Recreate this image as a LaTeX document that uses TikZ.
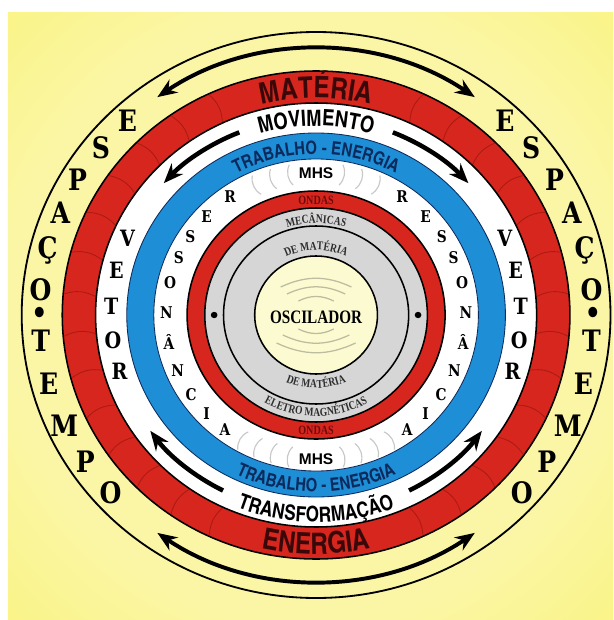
\documentclass[tikz,border=0pt]{standalone}
\usepackage{fontspec}
\setmainfont{Liberation Serif}
\newfontfamily\condfont{texgyreheroscn-bold.otf}
\newfontfamily\plainsans{Liberation Sans}
\newfontfamily\narrowserif{Liberation Serif}[FakeStretch=0.8]
\newfontfamily\slabserif{DejaVu Serif}[FakeStretch=0.85]
\usetikzlibrary{arrows.meta,
                decorations.text}

\definecolor{bgyellow}{RGB}{246,236,72}
\definecolor{ringyellow}{RGB}{249,242,118}
\definecolor{bgpale}{RGB}{251,246,165}
\definecolor{bandred}{RGB}{214,38,30}
\definecolor{scalered}{RGB}{172,26,18}
\definecolor{bandblue}{RGB}{30,142,214}
\definecolor{ringgray}{RGB}{214,214,214}
\definecolor{coreyellow}{RGB}{252,250,208}
\definecolor{coreedge}{RGB}{245,239,150}
\definecolor{maroontext}{RGB}{58,8,8}
\definecolor{navytext}{RGB}{12,42,92}
\definecolor{ondastext}{RGB}{110,10,10}
\definecolor{graytext}{RGB}{45,45,45}
\definecolor{wavegray}{RGB}{200,200,200}
\definecolor{waveolive}{RGB}{188,188,160}

\pgfdeclareradialshading{yellowglow}{\pgfpoint{0bp}{0bp}}{color(0bp)=(bgpale); color(25bp)=(bgpale); color(42bp)=(ringyellow); color(60bp)=(bgyellow); color(75bp)=(bgyellow)}
\pgfdeclareradialshading{coreglow}{\pgfpoint{0bp}{0bp}}{color(0bp)=(coreyellow); color(30bp)=(coreyellow); color(50bp)=(coreedge)}

\newcommand{\bigbandfont}{\condfont\fontsize{21}{21}\selectfont}
\newcommand{\movfont}{\condfont\fontsize{16}{16}\selectfont}
\newcommand{\transfont}{\condfont\fontsize{15}{15}\selectfont}
\newcommand{\bluebandfont}{\condfont\fontsize{13}{13}\selectfont}
\newcommand{\grayringfont}{\narrowserif\bfseries\fontsize{8.5}{8.5}\selectfont}

\tikzset{
  ringline/.style={draw=black, line width=1.1pt},
  scalemark/.style={draw=scalered, line width=0.6pt},
  outerarrow/.style={line width=2.8pt, {Stealth[length=14pt,width=11pt]}-{Stealth[length=14pt,width=11pt]}},
  bandarrow/.style={line width=3.2pt, -{Stealth[length=14pt,width=11pt]}},
  espletter/.style={font=\slabserif\bfseries\fontsize{21}{21}\selectfont, inner sep=0pt},
  vetletter/.style={font=\slabserif\bfseries\fontsize{16}{16}\selectfont, inner sep=0pt},
  resletter/.style={font=\slabserif\bfseries\fontsize{11.5}{11.5}\selectfont, inner sep=0pt},
  mhslabel/.style={font=\plainsans\bfseries\fontsize{11}{11}\selectfont, inner sep=0pt},
  ondaslabel/.style={font=\narrowserif\bfseries\fontsize{9}{9}\selectfont, text=ondastext, inner sep=0pt},
  mhswave/.style={draw=wavegray, line width=0.8pt},
  corewave/.style={draw=waveolive, line width=0.9pt}
}

\begin{document}
\begin{tikzpicture}[x=0.026cm, y=0.025cm]
    % Radii of the rings
    \def\rOuter{283}
    \def\rLetters{266}
    \def\rRedOut{244}
    \def\rRedIn{212}
    \def\rBlueOut{182}
    \def\rBlueIn{156}
    \def\rOndasOut{124}
    \def\rOndasIn{107}
    \def\rGrayLine{89}
    \def\rCore{59}

    \useasboundingbox (-303.85,-305) rectangle (285.6,315);

    % Background: white margin and the yellow card
    \fill[white] (-303.85,-305) rectangle (285.6,315);
    \shade[shading=yellowglow] (-296.2,-305) rectangle (285.6,303);

    % Outer thin circle
    \draw[line width=1.3pt] (0,0) circle[radius=\rOuter];

    % Red band with its scale marks
    \filldraw[fill=bandred, ringline] (0,0) circle[radius=\rRedOut];
    \foreach \a in {-65,-55,...,65} \draw[scalemark] (\a:\rRedIn+1) to[bend left=22] (\a:\rRedOut-1);
    \foreach \a in {115,125,...,245} \draw[scalemark] (\a:\rRedIn+1) to[bend right=22] (\a:\rRedOut-1);
    \filldraw[fill=white, ringline] (0,0) circle[radius=\rRedIn];

    % Blue band, white band, red ring, gray ring, core
    \filldraw[fill=bandblue, draw=navytext, line width=0.6pt] (0,0) circle[radius=\rBlueOut];
    \filldraw[fill=white, draw=navytext, line width=0.6pt] (0,0) circle[radius=\rBlueIn];
    \filldraw[fill=bandred, ringline] (0,0) circle[radius=\rOndasOut];
    \filldraw[fill=ringgray, ringline] (0,0) circle[radius=\rOndasIn];
    \draw[ringline] (0,0) circle[radius=\rGrayLine];
    \shade[shading=coreglow] (0,0) circle[radius=\rCore];
    \draw[ringline] (0,0) circle[radius=\rCore];

    % Dots in the gray ring
    \fill (0:98) circle[radius=3.2];
    \fill (180:98) circle[radius=3.2];

    % Outer arrows (top and bottom)
    \draw[outerarrow] (125:\rLetters) arc[start angle=125, end angle=55, radius=\rLetters];
    \draw[outerarrow] (235:\rLetters) arc[start angle=235, end angle=305, radius=\rLetters];

    % Arrows in the white band
    \draw[bandarrow] (112:197) arc[start angle=112, end angle=138, radius=197];
    \draw[bandarrow] (68:197) arc[start angle=68, end angle=42, radius=197];
    \draw[bandarrow] (243:197) arc[start angle=243, end angle=216, radius=197];
    \draw[bandarrow] (297:197) arc[start angle=297, end angle=324, radius=197];

    % Curved texts on the bands
    \path[decorate, decoration={text along path, text align=center, text color=maroontext,
        text={|\bigbandfont|MATÉRIA}}] (125:217) arc[start angle=125, end angle=55, radius=217];
    \path[decorate, decoration={text along path, text align=center, text color=maroontext,
        text={|\bigbandfont|ENERGIA}}] (230:239) arc[start angle=230, end angle=310, radius=239];
    \path[decorate, decoration={text along path, text align=center, text color=black,
        text={|\movfont|MOVIMENTO}}] (130:189) arc[start angle=130, end angle=50, radius=189];
    \path[decorate, decoration={text along path, text align=center, text color=black,
        text={|\transfont|TRANSFORMAÇÃO}}] (225:207) arc[start angle=225, end angle=315, radius=207];
    \path[decorate, decoration={text along path, text align=center, text color=navytext,
        text={|\bluebandfont|TRABALHO - ENERGIA}}] (140:161) arc[start angle=140, end angle=40, radius=161];
    \path[decorate, decoration={text along path, text align=center, text color=navytext,
        text={|\bluebandfont|TRABALHO - ENERGIA}}] (220:177) arc[start angle=220, end angle=320, radius=177];

    % Curved texts in the gray ring
    \path[decorate, decoration={text along path, text align=center, text color=graytext,
        text={|\grayringfont|MECÂNICAS}}] (150:92) arc[start angle=150, end angle=30, radius=92];
    \path[decorate, decoration={text along path, text align=center, text color=graytext,
        text={|\grayringfont|DE MATÉRIA}}] (160:65) arc[start angle=160, end angle=20, radius=65];
    \path[decorate, decoration={text along path, text align=center, text color=graytext,
        text={|\grayringfont|DE MATÉRIA}}] (200:73) arc[start angle=200, end angle=340, radius=73];
    \path[decorate, decoration={text along path, text align=center, text color=graytext,
        text={|\grayringfont|ELETRO MAGNÉTICAS}}] (200:101) arc[start angle=200, end angle=340, radius=101];

    % ONDAS and MHS
    \node[ondaslabel] (ondasTop) at (90:115) {ONDAS};
    \node[ondaslabel] (ondasBot) at (270:115) {ONDAS};
    \node[mhslabel] (mhsTop) at (90:142) {MHS};
    \node[mhslabel] (mhsBot) at (270:144) {MHS};

    % Wave marks round MHS
    \foreach \d in {11,18,25} {
        \draw[mhswave, shift={({90+\d}:142)}, rotate=\d] (18,0) ++(145:18) arc[start angle=145, end angle=215, radius=18];
        \draw[mhswave, shift={({90-\d}:142)}, rotate=-\d] (-18,0) ++(-35:18) arc[start angle=-35, end angle=35, radius=18];
    }
    \foreach \d in {11,17.5,24,30.5} {
        \draw[mhswave, shift={({270+\d}:144)}, rotate=180+\d] (18,0) ++(145:18) arc[start angle=145, end angle=215, radius=18];
        \draw[mhswave, shift={({270-\d}:144)}, rotate=180-\d] (-18,0) ++(-35:18) arc[start angle=-35, end angle=35, radius=18];
    }

    % ESPACO-TEMPO letters on both sides
    \foreach \ang/\ch [count=\i] in {133/E,141/S,149.5/P,157.5/A,166/Ç,174.5/O,180/•,185.5/T,195/E,204.5/M,213.5/P,222/O} {
        \node[espletter] (espL\i) at (\ang:\rLetters) {\ch};
        \node[espletter] (espR\i) at ({180-\ang}:\rLetters) {\ch};
    }

    % VETOR letters
    \foreach \ang/\ch [count=\i] in {157/V,167/E,177.5/T,187.5/O,196.5/R} {
        \node[vetletter] (vetL\i) at (\ang:197) {\ch};
        \node[vetletter] (vetR\i) at ({180-\ang}:197) {\ch};
    }

    % RESSONANCIA letters
    \foreach \ang/\ch [count=\i] in {125/R,137/E,147/S,156.5/S,167/O,179/N,191/Â,202.5/N,213.5/C,223/I,232.5/A} {
        \node[resletter] (resL\i) at (\ang:144) {\ch};
        \node[resletter] (resR\i) at ({180-\ang}:144) {\ch};
    }

    % Core: waves and label
    \draw[corewave] (-34,28) to[bend left=25] (34,28);
    \draw[corewave] (-28,21) to[bend left=25] (28,21);
    \draw[corewave] (-17,14) to[bend left=26] (17,14);
    \draw[corewave] (-17,-14) to[bend right=26] (17,-14);
    \draw[corewave] (-32,-20) to[bend right=25] (32,-20);
    \draw[corewave] (-38,-28) to[bend right=25] (38,-28);
    \node[font=\narrowserif\bfseries\fontsize{13.5}{13.5}\selectfont, inner sep=0pt] (osc) at (0,-2) {OSCILADOR};
\end{tikzpicture}
\end{document}
